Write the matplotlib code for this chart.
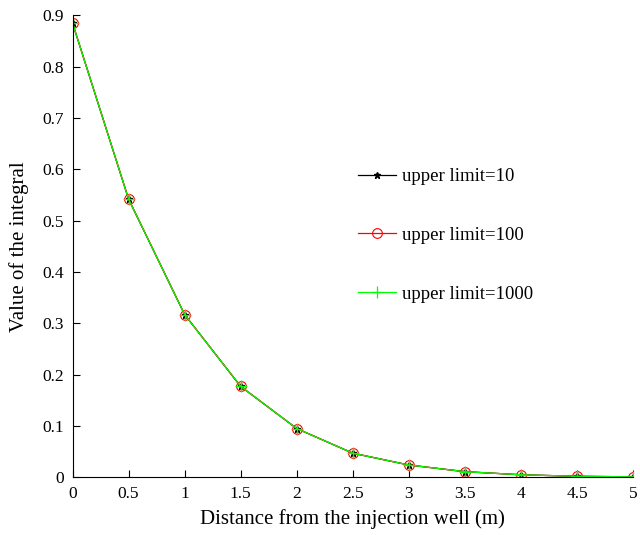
import matplotlib
matplotlib.use("Agg")
import matplotlib.pyplot as plt

# distance from the injection well (m)
distance = [0, 0.5, 1, 1.5, 2, 2.5, 3, 3.5, 4, 4.5, 5]

# value of the integral for each upper limit (curves overlap)
limit_10 = [0.885, 0.542, 0.317, 0.177, 0.095, 0.047, 0.024, 0.011, 0.005, 0.002, 0.001]
limit_100 = [0.885, 0.542, 0.317, 0.177, 0.095, 0.047, 0.024, 0.011, 0.005, 0.002, 0.001]
limit_1000 = [0.885, 0.542, 0.317, 0.177, 0.095, 0.047, 0.024, 0.011, 0.005, 0.002, 0.001]

labels = ["upper limit=10", "upper limit=100", "upper limit=1000"]

plt.rcParams["font.family"] = ["Liberation Serif", "DejaVu Serif"]
plt.rcParams["font.size"] = 12.5

fig = plt.figure(figsize=(6.4, 5.35), dpi=100)
ax = fig.add_axes([0.1133, 0.1078, 0.876, 0.8636])

ax.plot(distance, limit_10, "-*", color="black", lw=0.9, ms=5, label=labels[0])
ax.plot(distance, limit_100, "-o", color="red", lw=0.9, ms=7, mfc="none", mew=0.8, label=labels[1])
ax.plot(distance, limit_1000, "-+", color=(0, 1, 0), lw=0.9, ms=8, mew=0.9, label=labels[2])

ax.set_xlim(0, 5)
ax.set_ylim(0, 0.9)
ax.set_xticks([0, 0.5, 1, 1.5, 2, 2.5, 3, 3.5, 4, 4.5, 5])
ax.set_xticklabels(["0", "0.5", "1", "1.5", "2", "2.5", "3", "3.5", "4", "4.5", "5"])
ax.set_yticks([0, 0.1, 0.2, 0.3, 0.4, 0.5, 0.6, 0.7, 0.8, 0.9])
ax.set_yticklabels(["0", "0.1", "0.2", "0.3", "0.4", "0.5", "0.6", "0.7", "0.8", "0.9"])
ax.tick_params(direction="in", length=5, width=0.8, pad=6)

ax.spines["top"].set_visible(False)
ax.spines["right"].set_visible(False)

ax.set_xlabel("Distance from the injection well (m)", fontsize=15, labelpad=5)
ax.set_ylabel("Value of the integral", fontsize=15, labelpad=10)

ax.legend(loc="upper left", bbox_to_anchor=(358 / 640, 1 - 168 / 535),
          bbox_transform=fig.transFigure, frameon=False, borderpad=0,
          fontsize=13.5, handlelength=2.0, handletextpad=0.37,
          labelspacing=2.22, borderaxespad=0)

fig.savefig("out.png", dpi=100)
